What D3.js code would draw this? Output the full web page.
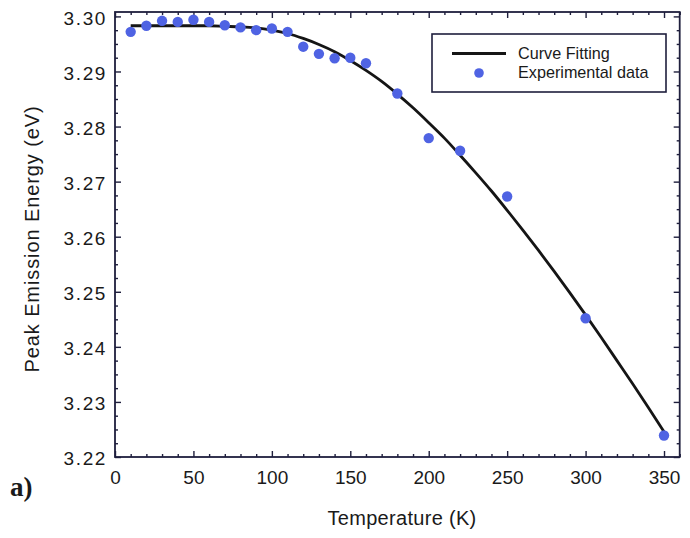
<!DOCTYPE html>
<html>
<head>
<meta charset="utf-8">
<script src="https://cdn.jsdelivr.net/npm/d3@7"></script>
<style>
  html, body { margin: 0; padding: 0; background: #fff; }
  svg { display: block; }
  text { font-family: "Liberation Sans", Arial, sans-serif; fill: #1a1a1a; }
  text.panel { font-family: "Liberation Serif", "Times New Roman", serif; font-weight: bold; }
</style>
</head>
<body>
<svg id="chart" width="690" height="538"></svg>
<script>
// Measured peak emission energy vs temperature
const expTemps = [10, 20, 30, 40, 50, 60, 70, 80, 90, 100, 110, 120, 130, 140, 150, 160, 180, 200, 220, 250, 300, 350];
const expEnergy = [3.2972, 3.2983, 3.2992, 3.2990, 3.2994, 3.2990, 3.2984, 3.2980, 3.2975, 3.2978, 3.2972, 3.2945, 3.2932, 3.2924, 3.2925, 3.2915, 3.2860, 3.2779, 3.2756, 3.2673, 3.2452, 3.2239];

// Fitted curve, sampled every 10 K
const fitTemps = [10, 20, 30, 40, 50, 60, 70, 80, 90, 100, 110, 120, 130, 140, 150, 160, 170, 180, 190, 200, 210, 220, 230, 240, 250, 260, 270, 280, 290, 300, 310, 320, 330, 340, 350];
const fitEnergy = [3.2983, 3.2983, 3.2983, 3.2983, 3.2983, 3.2983, 3.2982, 3.2981, 3.2979, 3.2975, 3.2969, 3.2960, 3.2949, 3.2936, 3.2920, 3.2902, 3.2882, 3.2859, 3.2834, 3.2807, 3.2779, 3.2748, 3.2716, 3.2683, 3.2648, 3.2612, 3.2575, 3.2537, 3.2498, 3.2458, 3.2417, 3.2375, 3.2333, 3.2290, 3.2246];

const xMajorTicks = [0, 50, 100, 150, 200, 250, 300, 350];
const yMajorTicks = [3.22, 3.23, 3.24, 3.25, 3.26, 3.27, 3.28, 3.29, 3.30];

const legendLabels = ["Curve Fitting", "Experimental data"];
const xTitle = "Temperature (K)";
const yTitle = "Peak Emission Energy (eV)";
const panelLabel = "a)";

const frameColor = "#1f1f3d";
const dotColor = "#4f63e3";

const plotLeft = 115, plotRight = 679.7, plotTop = 12, plotBottom = 457;

const x = d3.scaleLinear().domain([0, 360]).range([plotLeft, plotRight]);
const y = d3.scaleLinear().domain([3.22, 3.3008]).range([plotBottom, plotTop]);

const svg = d3.select("#chart");

// minor tick values
const xMinor = d3.range(0, 361, 10).filter(v => v % 50 !== 0);
const yMinor = d3.range(0, 33).map(i => +(3.22 + i * 0.0025).toFixed(4))
  .filter(v => Math.abs(Math.round(v * 100) - v * 100) > 1e-6 && v <= 3.3008);

// axes with inward ticks on all four sides
function addAxis(axisGen, tx, ty, cls) {
  const g = svg.append("g").attr("class", cls).attr("transform", `translate(${tx},${ty})`).call(axisGen);
  g.select(".domain").remove();
  g.selectAll("line").attr("stroke", frameColor).attr("stroke-width", 1.4);
  return g;
}

// bottom
const bx = addAxis(d3.axisBottom(x).tickValues(xMajorTicks).tickSize(-6).tickPadding(14)
  .tickFormat(d3.format("d")), 0, plotBottom, "x-axis");
bx.selectAll("text").attr("font-size", 19).attr("fill", "#1a1a1a");
addAxis(d3.axisBottom(x).tickValues(xMinor).tickSize(-3).tickFormat(""), 0, plotBottom, "x-minor");
// top
addAxis(d3.axisTop(x).tickValues(xMajorTicks).tickSize(-6).tickFormat(""), 0, plotTop, "x-top");
addAxis(d3.axisTop(x).tickValues(xMinor).tickSize(-3).tickFormat(""), 0, plotTop, "x-top-minor");
// left
const ly = addAxis(d3.axisLeft(y).tickValues(yMajorTicks).tickSize(-6).tickPadding(8)
  .tickFormat(d3.format(".2f")), plotLeft, 0, "y-axis");
ly.selectAll("text").attr("font-size", 19).attr("fill", "#1a1a1a")
  .attr("letter-spacing", 1.6).attr("dy", "0.42em");
addAxis(d3.axisLeft(y).tickValues(yMinor).tickSize(-3).tickFormat(""), plotLeft, 0, "y-minor");
// right
addAxis(d3.axisRight(y).tickValues(yMajorTicks).tickSize(-6).tickFormat(""), plotRight, 0, "y-right");
addAxis(d3.axisRight(y).tickValues(yMinor).tickSize(-3).tickFormat(""), plotRight, 0, "y-right-minor");

// plot frame
svg.append("rect")
  .attr("x", plotLeft).attr("y", plotTop)
  .attr("width", plotRight - plotLeft).attr("height", plotBottom - plotTop)
  .attr("fill", "none").attr("stroke", frameColor).attr("stroke-width", 1.8);

// fitted curve
const fitData = fitTemps.map((t, i) => [t, fitEnergy[i]]);
svg.append("path")
  .datum(fitData)
  .attr("fill", "none")
  .attr("stroke", "#151515")
  .attr("stroke-width", 2.8)
  .attr("stroke-linejoin", "round")
  .attr("d", d3.line().x(d => x(d[0])).y(d => y(d[1])).curve(d3.curveMonotoneX));

// experimental points
svg.append("g").selectAll("circle")
  .data(expTemps.map((t, i) => [t, expEnergy[i]]))
  .join("circle")
  .attr("cx", d => x(d[0]))
  .attr("cy", d => y(d[1]))
  .attr("r", 5.2)
  .attr("fill", dotColor);

// legend
const lg = svg.append("g");
lg.append("rect").attr("x", 432).attr("y", 34).attr("width", 234).attr("height", 58)
  .attr("fill", "#fff").attr("stroke", frameColor).attr("stroke-width", 1.6);
lg.append("line").attr("x1", 452).attr("x2", 506).attr("y1", 53.5).attr("y2", 53.5)
  .attr("stroke", "#151515").attr("stroke-width", 2.8);
lg.append("circle").attr("cx", 479).attr("cy", 73).attr("r", 4.8).attr("fill", dotColor);
lg.selectAll("text.leg").data(legendLabels).join("text")
  .attr("class", "leg")
  .attr("x", 518).attr("y", (d, i) => 59 + i * 18.5)
  .attr("font-size", 16.2)
  .text(d => d);

// axis titles
svg.append("text")
  .attr("x", 402).attr("y", 525)
  .attr("text-anchor", "middle")
  .attr("font-size", 20)
  .attr("letter-spacing", 0.3)
  .text(xTitle);

svg.append("text")
  .attr("transform", "translate(39,239) rotate(-90)")
  .attr("text-anchor", "middle")
  .attr("font-size", 20)
  .attr("letter-spacing", 0.9)
  .text(yTitle);

// panel label
svg.append("text")
  .attr("class", "panel")
  .attr("x", 10).attr("y", 496)
  .attr("font-size", 27)
  .text(panelLabel);
</script>
</body>
</html>
